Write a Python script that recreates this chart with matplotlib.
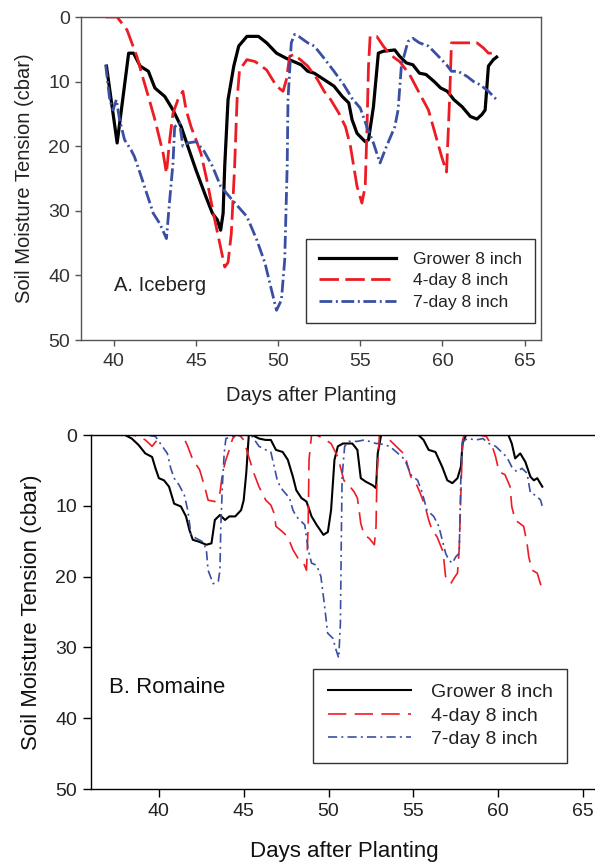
import matplotlib
matplotlib.use("Agg")
import matplotlib.pyplot as plt

plt.rcParams['font.family'] = ['Liberation Sans', 'DejaVu Sans']

# ---------------- data (days after planting, soil moisture tension cbar) ----------------
series_labels = ["Grower 8 inch", "4-day 8 inch", "7-day 8 inch"]
x_ticks = [40, 45, 50, 55, 60, 65]
y_ticks = [0, 10, 20, 30, 40, 50]

iceberg_grower = [(39.55, 7.6), (40.2, 19.5), (40.9, 5.6), (41.2, 5.6), (41.6, 7.6), (42.1, 8.4),
                  (42.5, 11.0), (43.1, 12.3), (43.6, 14.4), (44.1, 17.0), (44.5, 20.0), (45.0, 23.7),
                  (45.6, 27.8), (46.0, 30.4), (46.3, 31.4), (46.5, 33.0), (46.65, 30.4), (46.75, 23.0),
                  (46.95, 12.8), (47.3, 7.6), (47.6, 4.5), (48.1, 3.0), (48.8, 3.0), (49.3, 4.0),
                  (49.9, 5.6), (50.5, 6.4), (50.95, 6.9), (51.4, 7.4), (51.8, 8.4), (52.2, 8.7),
                  (52.8, 9.7), (53.4, 10.7), (53.9, 12.3), (54.3, 13.3), (54.5, 15.9), (54.8, 18.0),
                  (55.3, 19.3), (55.5, 19.0), (55.8, 13.9), (56.1, 5.6), (56.4, 5.3), (57.1, 5.1),
                  (57.4, 6.1), (57.8, 7.1), (58.2, 7.4), (58.6, 8.7), (59.0, 8.9), (59.5, 10.0),
                  (59.9, 11.0), (60.3, 11.5), (60.7, 12.8), (61.2, 13.9), (61.7, 15.4), (62.1, 15.8),
                  (62.4, 15.1), (62.6, 14.4), (62.8, 7.6), (63.1, 6.6), (63.3, 6.2)]

iceberg_4day = [(39.5, 0.0), (40.2, 0.0), (40.8, 2.0), (41.4, 6.1), (41.8, 9.7), (42.1, 12.3),
                (42.5, 15.9), (43.0, 21.1), (43.2, 24.2), (43.4, 19.0), (43.6, 14.9), (43.9, 12.8),
                (44.2, 11.5), (44.4, 14.4), (44.7, 17.0), (45.0, 19.0), (45.3, 21.1), (45.7, 25.7),
                (46.1, 30.9), (46.4, 34.5), (46.75, 38.7), (46.95, 38.0), (47.15, 33.5), (47.35, 23.2),
                (47.5, 12.8), (47.65, 8.2), (48.1, 6.6), (48.6, 6.9), (49.3, 8.2), (49.9, 10.7),
                (50.3, 11.5), (50.5, 9.7), (50.7, 6.1), (50.95, 5.8), (51.35, 6.6), (51.8, 7.6),
                (52.4, 9.7), (52.8, 11.5), (53.2, 12.8), (53.7, 14.9), (54.1, 17.0), (54.4, 20.0),
                (54.8, 26.2), (55.1, 28.8), (55.3, 26.2), (55.4, 18.0), (55.5, 7.6), (55.6, 3.0),
                (56.0, 3.0), (56.4, 4.5), (56.8, 5.8), (57.4, 6.9), (58.0, 8.9), (58.6, 11.8),
                (59.15, 14.4), (59.55, 18.0), (59.95, 21.6), (60.25, 24.0), (60.35, 18.0), (60.45, 11.8),
                (60.55, 4.0), (61.1, 4.0), (62.1, 4.0), (62.5, 4.8), (62.8, 5.6), (63.3, 5.6)]

iceberg_7day = [(39.5, 7.4), (39.75, 12.8), (39.95, 14.4), (40.15, 12.8), (40.35, 15.9), (40.65, 19.0),
                (41.05, 20.6), (41.25, 21.6), (41.6, 24.2), (42.0, 27.3), (42.4, 30.4), (42.8, 32.0),
                (43.2, 34.3), (43.4, 28.3), (43.6, 22.6), (43.7, 17.0), (44.0, 16.4), (44.2, 20.0),
                (44.5, 19.5), (45.0, 19.3), (45.5, 20.8), (46.0, 23.1), (46.5, 26.2), (47.2, 28.3),
                (48.1, 30.9), (48.7, 34.5), (49.2, 38.1), (49.6, 42.3), (49.9, 45.4), (50.2, 43.8),
                (50.4, 37.6), (50.55, 23.1), (50.6, 12.8), (50.8, 4.0), (51.0, 2.7), (51.25, 3.0),
                (51.8, 4.0), (52.2, 4.5), (52.8, 6.4), (53.4, 8.4), (54.0, 10.5), (54.5, 12.6),
                (55.0, 14.1), (55.4, 17.0), (55.8, 19.5), (56.2, 22.6), (56.6, 20.0), (57.1, 17.0),
                (57.3, 14.4), (57.5, 7.6), (57.9, 3.8), (58.2, 3.3), (58.6, 4.0), (59.15, 4.5),
                (59.65, 5.8), (60.25, 7.4), (60.55, 8.4), (60.95, 8.4), (61.5, 9.2), (61.9, 10.0),
                (62.3, 10.5), (62.8, 11.5), (63.3, 12.8)]

romaine_grower = [(36.0, 0.0), (38.0, 0.0), (38.4, 0.5), (38.8, 1.4), (39.2, 2.6), (39.6, 3.1),
                  (39.8, 4.7), (40.0, 6.1), (40.3, 6.4), (40.6, 7.3), (40.9, 9.7), (41.3, 10.1),
                  (41.6, 11.5), (41.8, 13.4), (42.0, 14.8), (42.4, 15.1), (42.8, 15.5), (43.1, 15.3),
                  (43.3, 12.0), (43.6, 11.3), (43.9, 12.0), (44.15, 11.5), (44.5, 11.5), (44.85, 10.6),
                  (45.0, 9.2), (45.15, 5.4), (45.3, 0.0), (45.5, 0.0), (45.9, 0.5), (46.3, 0.7),
                  (46.6, 0.7), (46.9, 2.1), (47.3, 2.4), (47.6, 3.5), (47.9, 5.9), (48.1, 7.8),
                  (48.4, 8.9), (48.7, 9.4), (49.0, 11.5), (49.3, 12.7), (49.7, 14.1), (49.96, 13.7),
                  (50.15, 10.6), (50.35, 3.5), (50.55, 1.6), (50.85, 1.2), (51.4, 1.2), (51.7, 2.1),
                  (51.9, 6.1), (52.2, 6.6), (52.6, 7.1), (52.8, 7.5), (52.9, 2.6), (53.1, 0.0),
                  (55.3, 0.0), (55.6, 0.7), (55.9, 2.1), (56.3, 2.4), (56.7, 4.5), (57.0, 6.4),
                  (57.3, 6.8), (57.6, 6.1), (57.8, 4.5), (57.9, 1.2), (58.1, 0.0), (60.6, 0.0),
                  (60.8, 1.2), (61.0, 3.3), (61.3, 2.6), (61.6, 3.8), (61.9, 5.9), (62.1, 6.4),
                  (62.3, 6.1), (62.6, 7.3)]

romaine_4day = [(36.0, 0.0), (38.4, 0.0), (38.8, 0.2), (39.2, 0.7), (39.6, 1.6), (39.9, 0.7),
                (40.2, 0.0), (41.4, 0.0), (41.7, 1.6), (42.0, 3.5), (42.4, 4.9), (42.7, 7.3),
                (42.9, 9.2), (43.3, 9.4), (43.6, 8.2), (43.75, 5.4), (43.95, 3.5), (44.15, 2.1),
                (44.35, 0.5), (44.55, 0.0), (44.75, 0.0), (45.0, 0.7), (45.3, 3.1), (45.6, 5.4),
                (45.9, 7.3), (46.3, 9.2), (46.6, 9.9), (46.8, 11.1), (46.9, 12.9), (47.3, 13.7),
                (47.6, 14.4), (47.9, 16.2), (48.2, 17.4), (48.5, 17.9), (48.7, 19.1), (48.8, 12.9),
                (48.85, 3.5), (49.0, 0.0), (49.3, 0.0), (49.7, 0.5), (50.15, 1.2), (50.55, 3.1),
                (50.9, 6.4), (51.2, 7.1), (51.5, 8.0), (51.7, 8.9), (51.8, 10.6), (51.9, 12.5),
                (52.1, 14.1), (52.4, 14.6), (52.7, 15.5), (52.8, 12.9), (52.85, 5.9), (53.0, 0.0),
                (53.3, 0.0), (53.6, 0.7), (53.9, 1.4), (54.2, 2.1), (54.5, 2.8), (54.65, 4.2),
                (54.85, 5.9), (55.15, 6.8), (55.4, 8.2), (55.7, 10.1), (55.9, 12.0), (56.1, 13.4),
                (56.4, 14.4), (56.7, 16.2), (56.8, 17.7), (56.9, 20.0), (57.0, 20.2), (57.2, 21.0),
                (57.4, 20.2), (57.6, 19.5), (57.7, 16.2), (57.8, 8.2), (57.9, 0.7), (58.0, 0.0),
                (58.9, 0.0), (59.3, 0.2), (59.65, 1.6), (59.85, 3.1), (60.05, 5.2), (60.4, 5.6),
                (60.7, 7.3), (60.8, 10.1), (61.0, 12.0), (61.5, 12.9), (61.7, 15.3), (61.8, 17.2),
                (62.0, 19.1), (62.3, 19.5), (62.6, 21.9)]

romaine_7day = [(36.0, 0.0), (39.2, 0.0), (39.8, 0.2), (40.2, 1.6), (40.5, 2.6), (40.7, 4.7),
                (40.9, 6.1), (41.2, 7.1), (41.5, 8.5), (41.7, 10.6), (41.9, 14.1), (42.2, 14.6),
                (42.6, 15.1), (42.8, 16.2), (42.9, 19.1), (43.2, 21.0), (43.5, 20.7), (43.6, 19.1),
                (43.65, 12.9), (43.75, 6.8), (43.85, 2.6), (43.95, 0.5), (44.35, 0.2), (45.1, 0.0),
                (45.5, 0.2), (45.9, 1.6), (46.3, 2.1), (46.6, 2.4), (46.8, 4.5), (47.0, 6.6),
                (47.3, 7.8), (47.7, 8.9), (47.9, 10.6), (48.1, 11.5), (48.3, 12.0), (48.6, 12.7),
                (48.8, 16.2), (49.0, 18.1), (49.3, 18.4), (49.55, 20.0), (49.75, 23.8), (49.95, 28.0),
                (50.25, 28.7), (50.45, 30.4), (50.6, 31.5), (50.7, 26.6), (50.75, 15.3), (50.8, 5.9),
                (50.95, 1.6), (51.2, 0.9), (51.7, 0.9), (52.1, 0.7), (52.4, 0.9), (52.8, 1.2),
                (53.0, 1.2), (53.6, 1.6), (54.0, 2.4), (54.5, 3.5), (54.85, 5.6), (55.25, 6.4),
                (55.5, 8.0), (55.8, 10.6), (56.2, 11.5), (56.5, 12.9), (56.7, 14.8), (56.9, 16.7),
                (57.1, 17.7), (57.3, 18.1), (57.5, 17.2), (57.7, 16.7), (57.8, 5.9), (57.9, 0.9),
                (58.2, 0.5), (58.7, 0.7), (59.1, 0.5), (59.45, 1.2), (59.85, 1.6), (60.2, 2.4),
                (60.5, 3.1), (60.8, 4.5), (61.1, 5.2), (61.4, 4.7), (61.7, 5.4), (61.9, 8.2),
                (62.2, 8.5), (62.5, 9.2), (62.6, 10.1)]

# ---------------- styling ----------------
BLACK = "#000000"
RED = "#ed1c24"
BLUE = "#3a4fa3"

W, H = 595, 864
fig = plt.figure(figsize=(W / 100, H / 100), dpi=100)


def ax_rect(left, top, right, bottom):
    return [left / W, 1 - bottom / H, (right - left) / W, (bottom - top) / H]


def xy(pts):
    return [p[0] for p in pts], [p[1] for p in pts]


# ---------------- panel A ----------------
axA = fig.add_axes(ax_rect(81, 17, 541, 340))
styleA = [
    dict(color=BLACK, lw=2.3, ls="-"),
    dict(color=RED, lw=2.0, ls=(0, (7, 2.3))),
    dict(color=BLUE, lw=2.0, ls=(0, (4.6, 1.3, 0.7, 1.3))),
]
for pts, lab, st in zip([iceberg_grower, iceberg_4day, iceberg_7day], series_labels, styleA):
    x, y = xy(pts)
    axA.plot(x, y, label=lab, solid_joinstyle="round", dash_joinstyle="round", **st)

axA.set_xlim(38, 66)
axA.set_ylim(50, 0)
axA.set_xticks(x_ticks)
axA.set_yticks(y_ticks)
for s in axA.spines.values():
    s.set_color("#555555")
    s.set_linewidth(1.0)
axA.tick_params(axis="both", colors="#555555", labelcolor="#333333", labelsize=14,
                length=4, width=1.0, direction="out")
axA.tick_params(axis="x", pad=5)
axA.tick_params(axis="y", pad=4)
axA.set_xlabel("Days after Planting", fontsize=14.5, color="#222222", va="center")
axA.xaxis.set_label_coords(0.5, (340 - 395) / 323)
axA.set_ylabel("Soil Moisture Tension (cbar)", fontsize=14.5, color="#222222", va="center")
axA.yaxis.set_label_coords((25 - 81) / 460, 0.5)
axA.text(40.0, 41.6, "A. Iceberg", fontsize=14.5, color="#222222", ha="left", va="center")

legA = axA.legend(loc="upper left", bbox_to_anchor=(306 / W, 1 - 239 / H),
                  bbox_transform=fig.transFigure, borderaxespad=0, fontsize=12.6,
                  handlelength=4.4, handletextpad=1.0, labelspacing=0.36, borderpad=0.72,
                  fancybox=False, framealpha=1, edgecolor="#333333")
legA.get_frame().set_linewidth(1.0)
for t in legA.get_texts():
    t.set_color("#222222")

# ---------------- panel B ----------------
axB = fig.add_axes(ax_rect(91, 435, 600, 789))
styleB = [
    dict(color=BLACK, lw=1.5, ls="-"),
    dict(color=RED, lw=1.2, ls=(0, (11, 5))),
    dict(color=BLUE, lw=1.2, ls=(0, (5.5, 2.5, 1.2, 2.5))),
]
for pts, lab, st in zip([romaine_grower, romaine_4day, romaine_7day], series_labels, styleB):
    x, y = xy(pts)
    axB.plot(x, y, label=lab, **st)

axB.set_xlim(36, 66)
axB.set_ylim(50, 0)
axB.set_xticks(x_ticks)
axB.set_yticks(y_ticks)
for s in axB.spines.values():
    s.set_color("#000000")
    s.set_linewidth(1.0)
axB.tick_params(axis="both", colors="#000000", labelcolor="#222222", labelsize=14,
                length=6, width=1.0, direction="out")
axB.tick_params(axis="x", pad=4)
axB.tick_params(axis="y", pad=4)
axB.set_xlabel("Days after Planting", fontsize=16, color="#111111", va="center")
axB.xaxis.set_label_coords((344 - 91) / 509, (789 - 852) / 354)
axB.set_ylabel("Soil Moisture Tension (cbar)", fontsize=16, color="#111111", va="center")
axB.yaxis.set_label_coords((32 - 91) / 509, 0.5)
axB.text(37.05, 35.7, "B. Romaine", fontsize=16, color="#111111", ha="left", va="center")

legB = axB.legend(loc="upper left", bbox_to_anchor=(313 / W, 1 - 669 / H),
                  bbox_transform=fig.transFigure, borderaxespad=0, fontsize=14,
                  handlelength=4.3, handletextpad=1.0, labelspacing=0.3, borderpad=0.75,
                  fancybox=False, framealpha=1, edgecolor="#333333")
legB.get_frame().set_linewidth(1.0)
for t in legB.get_texts():
    t.set_color("#222222")

fig.savefig("out.png", dpi=100)
